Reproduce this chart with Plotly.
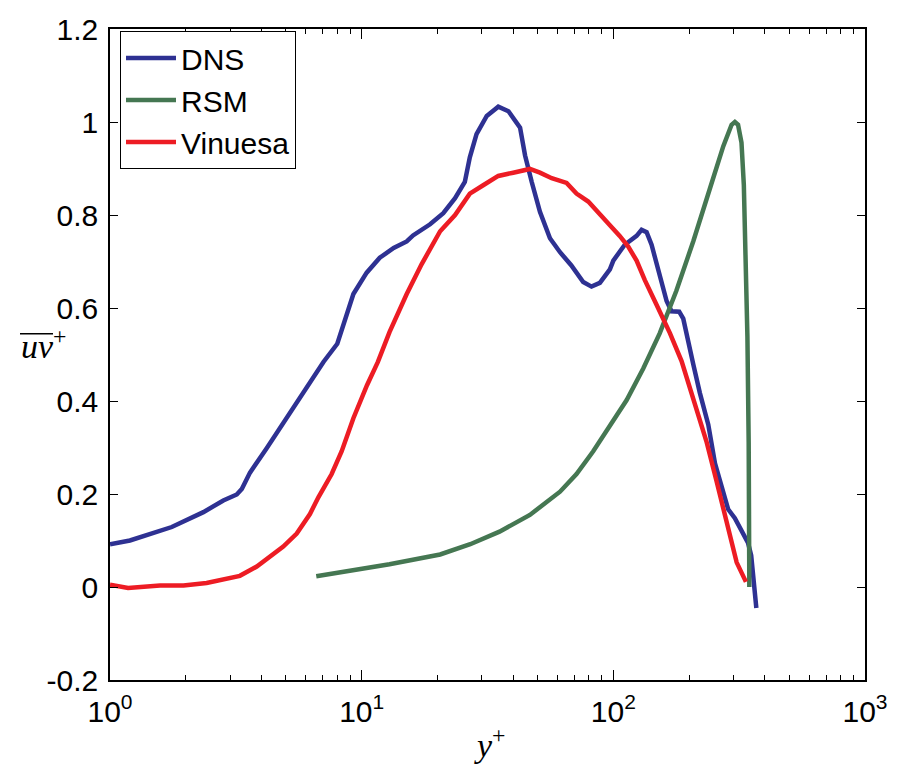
import plotly.graph_objects as go

# ---- data ----
dns_x = [1.0, 1.2, 1.76, 2.35, 2.82, 3.19, 3.34, 3.6, 4.2, 5.03, 6.04, 7.05, 8.0, 8.45, 9.27,
         10.47, 11.8, 13.4, 15.1, 16.0, 18.7, 21.1, 23.5, 25.7, 26.9, 28.6, 31.4, 34.9, 38.3,
         42.6, 44.6, 47.4, 51.1, 56.0, 61.4, 68.0, 72.6, 75.9, 81.9, 88.4, 96.9, 100, 111,
         123.7, 129.5, 135.6, 141.9, 150.7, 157.8, 162.8, 170.3, 182.7, 189.6, 198.6, 208,
         220.8, 238.4, 253.5, 269, 286, 304, 322, 343, 353, 370]
dns_y = [0.092, 0.100, 0.129, 0.161, 0.186, 0.199, 0.211, 0.246, 0.299, 0.363, 0.430, 0.484,
         0.523, 0.562, 0.630, 0.676, 0.708, 0.729, 0.743, 0.756, 0.780, 0.804, 0.836, 0.871,
         0.924, 0.974, 1.013, 1.033, 1.023, 0.988, 0.928, 0.871, 0.807, 0.750, 0.720, 0.692,
         0.672, 0.656, 0.646, 0.654, 0.683, 0.702, 0.736, 0.755, 0.768, 0.763, 0.736, 0.683,
         0.641, 0.615, 0.593, 0.592, 0.577, 0.524, 0.478, 0.417, 0.349, 0.266, 0.220, 0.167,
         0.148, 0.121, 0.095, 0.068, -0.045]

rsm_x = [6.6, 12.9, 20.5, 27.0, 35.3, 46.6, 61.4, 71.4, 83.2, 96.9, 113, 131.5, 153, 178, 208,
         242, 273.5, 295, 304, 313, 323, 330, 335, 341, 345, 347]
rsm_y = [0.023, 0.049, 0.070, 0.092, 0.119, 0.155, 0.205, 0.243, 0.292, 0.345, 0.402, 0.470,
         0.546, 0.637, 0.744, 0.857, 0.948, 0.994, 1.000, 0.994, 0.956, 0.865, 0.744, 0.539,
         0.311, 0.0]

vin_x = [1.0, 1.18, 1.58, 1.96, 2.42, 3.28, 3.83, 4.88, 5.52, 6.23, 6.73, 7.6, 8.33, 9.27, 10.5,
         11.6, 12.9, 14.2, 15.1, 17.3, 20.5, 23.5, 26.9, 30.4, 34.9, 40.0, 46.6, 51.1, 56.9,
         65.2, 71.4, 79.5, 88.4, 96.9, 106, 114.6, 123.7, 133.4, 148.5, 167.8, 186.7, 208, 235,
         257, 281.8, 309, 336.5]
vin_y = [0.005, -0.002, 0.003, 0.003, 0.0085, 0.024, 0.044, 0.087, 0.115, 0.157, 0.193, 0.243,
         0.292, 0.363, 0.434, 0.484, 0.548, 0.600, 0.630, 0.694, 0.765, 0.800, 0.846, 0.864,
         0.884, 0.891, 0.899, 0.891, 0.879, 0.869, 0.846, 0.829, 0.800, 0.778, 0.755, 0.732,
         0.702, 0.660, 0.607, 0.546, 0.486, 0.402, 0.311, 0.228, 0.137, 0.053, 0.011]

x_tickvals = [1, 10, 100, 1000]
x_ticktext = ["10<sup>0</sup>", "10<sup>1</sup>", "10<sup>2</sup>", "10<sup>3</sup>"]
y_tickvals = [-0.2, 0, 0.2, 0.4, 0.6, 0.8, 1.0, 1.2]
y_ticktext = ["-0.2", "0", "0.2", "0.4", "0.6", "0.8", "1", "1.2"]
x_minor = [m * 10 ** k for k in range(3) for m in range(2, 10)]

# ---- figure ----
W, H = 913, 768
ML, MR, MT, MB = 110, 48, 22, 88
PW, PH = W - ML - MR, H - MT - MB

def px(x):
    return (x - ML) / PW

def py(y):
    return (H - MB - y) / PH

fig = go.Figure()
fig.add_trace(go.Scatter(x=dns_x, y=dns_y, mode="lines", name="DNS",
                         line=dict(color="#2E3192", width=4.5)))
fig.add_trace(go.Scatter(x=rsm_x, y=rsm_y, mode="lines", name="RSM",
                         line=dict(color="#457752", width=4.5)))
fig.add_trace(go.Scatter(x=vin_x, y=vin_y, mode="lines", name="Vinuesa",
                         line=dict(color="#ED1C24", width=4.5)))

font_main = "Liberation Sans, Arial, sans-serif"
fig.update_layout(
    width=W, height=H,
    margin=dict(l=ML, r=MR, t=MT, b=MB, pad=0),
    paper_bgcolor="white", plot_bgcolor="white",
    font=dict(family=font_main, size=30, color="black"),
    showlegend=True,
    legend=dict(x=px(120), y=py(24), xanchor="left", yanchor="top",
                bgcolor="white", bordercolor="black", borderwidth=1,
                font=dict(family=font_main, size=30, color="black"),
                itemwidth=50, tracegroupgap=0),
    xaxis=dict(type="log", range=[0, 3], tickmode="array", tickvals=x_tickvals,
               ticktext=x_ticktext, ticks="inside", ticklen=10, tickwidth=1,
               tickcolor="black", showline=True, linecolor="black", linewidth=1.5,
               mirror="ticks", showgrid=False, zeroline=False,
               minor=dict(tickmode="array", tickvals=x_minor, ticks="inside",
                          ticklen=5, tickwidth=1, tickcolor="black", showgrid=False),
               tickfont=dict(size=30), ticklabelstandoff=4),
    yaxis=dict(range=[-0.2, 1.2], tickmode="array", tickvals=y_tickvals,
               ticktext=y_ticktext, ticks="inside", ticklen=8, tickwidth=1,
               tickcolor="black", showline=True, linecolor="black", linewidth=1.5,
               mirror="ticks", showgrid=False, zeroline=False,
               tickfont=dict(size=30), ticklabelstandoff=4),
)

# y-axis label with overline
fig.add_annotation(xref="paper", yref="paper", x=px(44), y=py(340), showarrow=False,
                   text="<i>uv</i><sup>+</sup>", xanchor="center", yanchor="middle",
                   font=dict(family="Liberation Serif, Times New Roman, serif", size=34))
fig.add_shape(type="line", xref="paper", yref="paper", x0=px(20), x1=px(53),
              y0=py(330), y1=py(330), line=dict(color="black", width=1.5))
# x-axis label
fig.add_annotation(xref="paper", yref="paper", x=px(490), y=py(744), showarrow=False,
                   text="<i>y</i><sup>+</sup>", xanchor="center", yanchor="middle",
                   font=dict(family="Liberation Serif, Times New Roman, serif", size=34))

fig.write_html("out.html")
